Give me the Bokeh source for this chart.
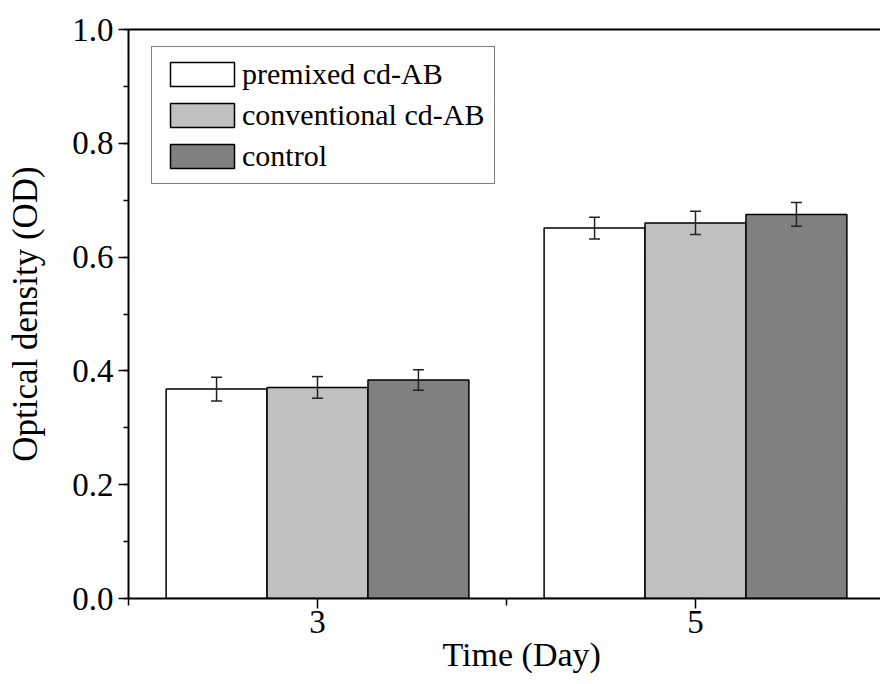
from bokeh.plotting import figure
from bokeh.models import (ColumnDataSource, Range1d, FixedTicker, SingleIntervalTicker,
                          PrintfTickFormatter, LinearAxis, Whisker, TeeHead, Title)
from bokeh.embed import file_html
from bokeh.resources import INLINE

# ---- data ----
days = [3, 5]
series_names = ["premixed cd-AB", "conventional cd-AB", "control"]
premixed = [0.368, 0.651]
premixed_err = [0.021, 0.019]
conventional = [0.371, 0.660]
conventional_err = [0.019, 0.0205]
control = [0.384, 0.675]
control_err = [0.018, 0.021]
x_tick_labels = {3: "3", 5: "5"}
x_title = "Time (Day)"
y_title = "Optical density (OD)"

values = [premixed, conventional, control]
errors = [premixed_err, conventional_err, control_err]
colors = ["#ffffff", "#c0c0c0", "#808080"]
bar_w = 0.534
offsets = [-bar_w, 0.0, bar_w]

FONT = "Liberation Serif"

p = figure(width=880, height=684, output_backend="svg", toolbar_location=None,
           x_range=Range1d(2.0, 2.0 + 752 / 189.0), y_range=Range1d(0, 1.0),
           min_border_left=128, min_border_right=0, min_border_top=29, min_border_bottom=86)
p.outline_line_color = None
p.grid.grid_line_color = None
p.background_fill_color = "white"
p.border_fill_color = "white"

for name, vals, errs, col, off in zip(series_names, values, errors, colors, offsets):
    src = ColumnDataSource(dict(
        x=[d + off for d in days],
        top=vals,
        upper=[v + e for v, e in zip(vals, errs)],
        lower=[v - e for v, e in zip(vals, errs)],
    ))
    p.vbar(x="x", top="top", bottom=0, width=bar_w, source=src,
           fill_color=col, line_color="black", line_width=1.5, legend_label=name)
    w = Whisker(base="x", upper="upper", lower="lower", source=src,
                line_color="#222222", line_width=1.5,
                upper_head=TeeHead(size=11, line_color="#222222", line_width=1.5),
                lower_head=TeeHead(size=11, line_color="#222222", line_width=1.5))
    w.level = "annotation"
    p.add_layout(w)

# x axis
xa = p.xaxis[0]
xa.ticker = FixedTicker(ticks=days, minor_ticks=[2, 4, 6])
xa.major_label_overrides = x_tick_labels
xa.axis_line_width = 2
xa.major_tick_line_width = 1.5
xa.minor_tick_line_width = 1.5
xa.major_tick_in = 0
xa.major_tick_out = 10
xa.minor_tick_in = 0
xa.minor_tick_out = 7
xa.major_label_text_font = FONT
xa.major_label_text_font_size = "33px"
xa.major_label_text_color = "black"
xa.major_label_standoff = 2

# y axis
ya = p.yaxis[0]
ya.ticker = SingleIntervalTicker(interval=0.2, num_minor_ticks=2)
ya.formatter = PrintfTickFormatter(format="%.1f")
ya.axis_line_width = 2
ya.major_tick_line_width = 1.5
ya.minor_tick_line_width = 1.5
ya.major_tick_in = 0
ya.major_tick_out = 10
ya.minor_tick_in = 0
ya.minor_tick_out = 5
ya.major_label_text_font = FONT
ya.major_label_text_font_size = "33px"
ya.major_label_text_color = "black"
ya.major_label_standoff = 5
ya.axis_label = y_title
ya.axis_label_text_font = FONT
ya.axis_label_text_font_size = "35px"
ya.axis_label_text_font_style = "normal"
ya.axis_label_text_color = "black"
ya.axis_label_standoff = 24

# top border line
top_axis = LinearAxis(ticker=FixedTicker(ticks=[]), axis_line_width=2,
                      major_tick_in=0, major_tick_out=0, minor_tick_in=0, minor_tick_out=0)
p.add_layout(top_axis, "above")

# x-axis title (offset to match reference placement)
p.add_layout(Title(text=x_title, align="left", offset=314, vertical_align="top", standoff=0,
                   text_font=FONT, text_font_size="34px", text_font_style="normal",
                   text_color="black"), "below")

# legend
lg = p.legend[0]
lg.location = (23, 414)
lg.glyph_width = 80
lg.glyph_height = 30
lg.label_height = 25
lg.label_standoff = 0
lg.spacing = 7
lg.padding = 10
lg.label_text_font = FONT
lg.label_text_font_size = "30px"
lg.label_text_color = "black"
lg.border_line_color = "black"
lg.border_line_width = 1.5
lg.background_fill_alpha = 1.0

open("out.html", "w").write(file_html(p, INLINE))
